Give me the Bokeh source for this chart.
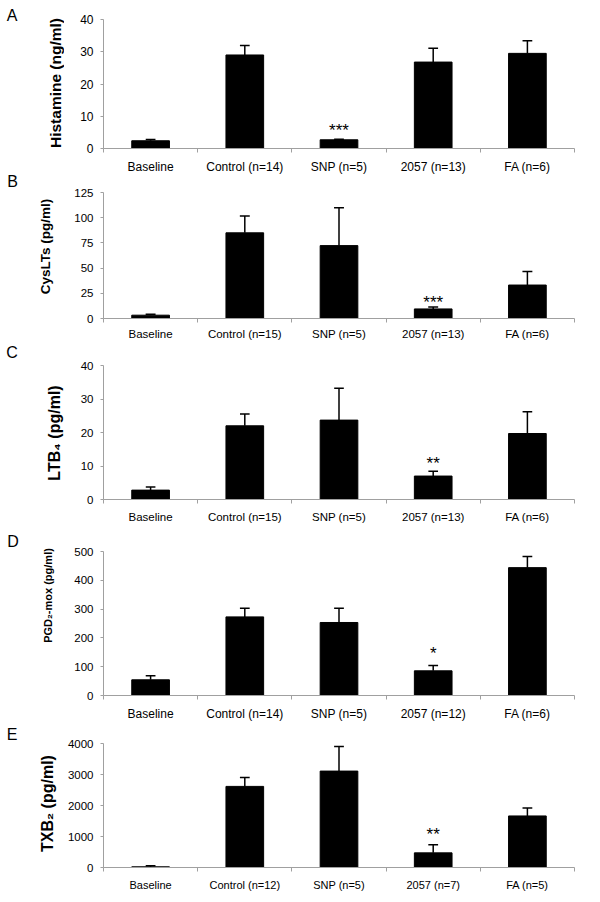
import math
from bokeh.plotting import figure
from bokeh.models import Range1d, FixedTicker, ColumnDataSource
from bokeh.layouts import column, row
from bokeh.embed import file_html
from bokeh.resources import INLINE
from bokeh.core.properties import value

FONT = "Liberation Sans"
AXC = "#a0a0a0"

# ---------------- data ----------------
hist_cats = ["Baseline", "Control (n=14)", "SNP (n=5)", "2057 (n=13)", "FA (n=6)"]
hist_mean = [2.4, 29.0, 2.7, 26.8, 29.5]
hist_err = [0.4, 2.9, 0.2, 4.3, 3.9]
hist_sig = ["", "", "***", "", ""]
hist_ticks = [0, 10, 20, 30, 40]

cys_cats = ["Baseline", "Control (n=15)", "SNP (n=5)", "2057 (n=13)", "FA (n=6)"]
cys_mean = [3.3, 85.0, 72.3, 9.5, 33.2]
cys_err = [0.9, 16.7, 37.5, 1.9, 13.5]
cys_sig = ["", "", "", "***", ""]
cys_ticks = [0, 25, 50, 75, 100, 125]

ltb_cats = ["Baseline", "Control (n=15)", "SNP (n=5)", "2057 (n=13)", "FA (n=6)"]
ltb_mean = [2.8, 22.0, 23.7, 7.0, 19.7]
ltb_err = [0.9, 3.5, 9.5, 1.4, 6.5]
ltb_sig = ["", "", "", "**", ""]
ltb_ticks = [0, 10, 20, 30, 40]

pgd_cats = ["Baseline", "Control (n=14)", "SNP (n=5)", "2057 (n=12)", "FA (n=6)"]
pgd_mean = [54.5, 273.0, 253.5, 85.7, 444.0]
pgd_err = [14.0, 30.0, 49.5, 18.3, 39.0]
pgd_sig = ["", "", "", "*", ""]
pgd_ticks = [0, 100, 200, 300, 400, 500]

txb_cats = ["Baseline", "Control (n=12)", "SNP (n=5)", "2057 (n=7)", "FA (n=5)"]
txb_mean = [22, 2616, 3110, 472, 1663]
txb_err = [31, 290, 793, 258, 257]
txb_sig = ["", "", "", "**", ""]
txb_ticks = [0, 1000, 2000, 3000, 4000]

panel_letters = ["A", "B", "C", "D", "E"]
panel_titles = ["Histamine (ng/ml)", "CysLTs (pg/ml)", "LTB\u2084 (pg/ml)",
                "PGD\u2082-mox (pg/ml)", "TXB\u2082 (pg/ml)"]

LEFT_W = 64
MAIN_W = 600 - LEFT_W


def make_panel(cats, means, errs, sig, yticks, st):
    n = len(cats)
    p = figure(width=MAIN_W, height=st["h"], x_range=Range1d(0, n), y_range=Range1d(0, yticks[-1]),
               output_backend="svg", toolbar_location=None,
               min_border_left=st["l"], min_border_right=st["r"],
               min_border_top=st["t"], min_border_bottom=st["b"])
    p.outline_line_color = None
    p.background_fill_color = "white"
    p.border_fill_color = "white"
    p.xgrid.visible = False
    p.ygrid.visible = False

    xs = [i + 0.5 for i in range(n)]
    tops = [m + e for m, e in zip(means, errs)]
    cat_px = (MAIN_W - st["l"] - st["r"]) / n
    cap = 5.0 / cat_px
    src = ColumnDataSource(dict(x=xs, m=means, top=tops,
                                x0=[x - cap for x in xs], x1=[x + cap for x in xs], sig=sig))
    p.vbar(x="x", top="m", width=0.4, source=src, fill_color="black", line_color="black")
    p.segment(x0="x", y0="m", x1="x", y1="top", source=src, line_color="black", line_width=1.5)
    p.segment(x0="x0", y0="top", x1="x1", y1="top", source=src, line_color="black", line_width=1.5)
    p.text(x="x", y="top", text="sig", source=src, text_align="center", text_baseline="alphabetic",
           y_offset=-st["so"], text_font=value(FONT), text_font_size="17px", text_color="black")

    xa = p.xaxis[0]
    xa.ticker = FixedTicker(ticks=xs, minor_ticks=list(range(n + 1)))
    xa.major_label_overrides = {x: c for x, c in zip(xs, cats)}
    xa.major_tick_out = 0
    xa.major_tick_in = 0
    xa.minor_tick_out = 4
    xa.minor_tick_in = 0
    xa.minor_tick_line_color = AXC
    xa.axis_line_color = AXC
    xa.major_label_text_font = FONT
    xa.major_label_text_font_size = st["xf"]
    xa.major_label_text_color = "black"
    xa.major_label_standoff = st["xs"]

    ya = p.yaxis[0]
    ya.ticker = FixedTicker(ticks=yticks, minor_ticks=[])
    ya.major_tick_out = 3
    ya.major_tick_in = 0
    ya.minor_tick_out = 0
    ya.minor_tick_in = 0
    ya.major_tick_line_color = AXC
    ya.axis_line_color = AXC
    ya.major_label_text_font = FONT
    ya.major_label_text_font_size = st["yf"]
    ya.major_label_text_color = "black"
    ya.major_label_standoff = 7
    return p


# frame: top/bottom borders, left/right borders (relative to the main column)
styles = [
    dict(h=176, t=19, b=28, l=97 - LEFT_W, r=600 - 581, xf="12px", yf="12px", xs=7, so=9),
    dict(h=168, t=16, b=26, l=99 - LEFT_W, r=600 - 574, xf="11.5px", yf="11.5px", xs=5, so=5),
    dict(h=183, t=21, b=28, l=94 - LEFT_W, r=600 - 583, xf="11.5px", yf="11.5px", xs=7, so=8),
    dict(h=196, t=24, b=28, l=100 - LEFT_W, r=600 - 583, xf="12px", yf="11.5px", xs=7, so=12),
    dict(h=174, t=20, b=30, l=102 - LEFT_W, r=600 - 584, xf="11px", yf="11.5px", xs=7, so=10),
]

# left strip: panel letters and rotated y titles (page pixel positions)
letter_pos = [(11.5, 15), (12, 180.5), (11.5, 351.5), (12.5, 540.5), (11.5, 734)]
title_pos = [(55, 82.5), (45, 246), (54, 432.5), (47.5, 595), (47, 803)]
title_size = ["15.5px", "13.5px", "16px", "11px", "16px"]
title_weight = ["bold", "bold", "bold", "bold", "bold"]

total_h = sum(s["h"] for s in styles)

left = figure(width=LEFT_W, height=total_h, x_range=Range1d(0, LEFT_W), y_range=Range1d(0, total_h),
              output_backend="svg", toolbar_location=None, x_axis_type=None, y_axis_type=None,
              min_border=0)
left.outline_line_color = None
left.xgrid.visible = False
left.ygrid.visible = False
for (lx, ly), letter in zip(letter_pos, panel_letters):
    left.text(x=[lx], y=[total_h - ly], text=[letter], text_align="center", text_baseline="middle",
              text_font=value(FONT), text_font_size="16px", text_color="black")
for (tx, ty), t, fs, fw in zip(title_pos, panel_titles, title_size, title_weight):
    left.text(x=[tx], y=[total_h - ty], text=[t], angle=math.pi / 2, text_align="center",
              text_baseline="middle", text_font=value(FONT), text_font_size=fs,
              text_font_style=fw, text_color="black")

pA = make_panel(hist_cats, hist_mean, hist_err, hist_sig, hist_ticks, styles[0])
pB = make_panel(cys_cats, cys_mean, cys_err, cys_sig, cys_ticks, styles[1])
pC = make_panel(ltb_cats, ltb_mean, ltb_err, ltb_sig, ltb_ticks, styles[2])
pD = make_panel(pgd_cats, pgd_mean, pgd_err, pgd_sig, pgd_ticks, styles[3])
pE = make_panel(txb_cats, txb_mean, txb_err, txb_sig, txb_ticks, styles[4])

layout = row(left, column(pA, pB, pC, pD, pE, spacing=0), spacing=0)
open("out.html", "w").write(file_html(layout, INLINE))
